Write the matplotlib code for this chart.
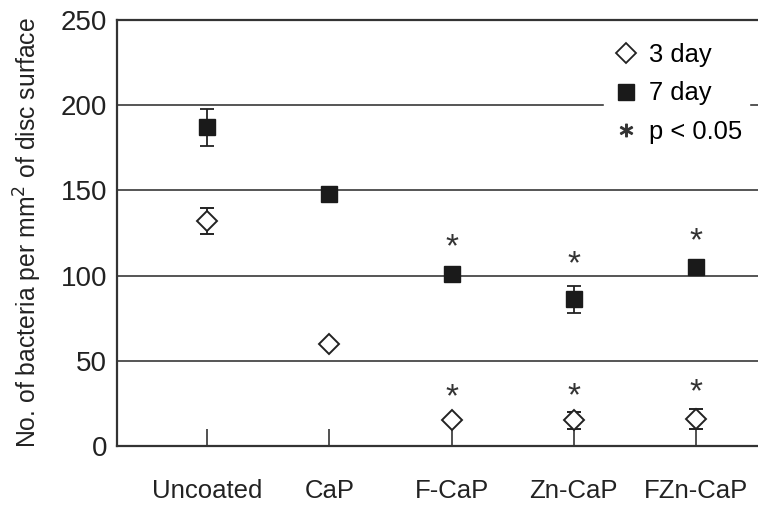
import matplotlib
matplotlib.use("Agg")
import matplotlib.pyplot as plt
from matplotlib.lines import Line2D

plt.rcParams['font.family'] = ['Liberation Sans', 'DejaVu Sans']

# Data
groups = ['Uncoated', 'CaP', 'F-CaP', 'Zn-CaP', 'FZn-CaP']
day3 = [132, 60, 15, 15, 16]
day3_err = [7.5, 0, 0, 5, 6]
day7 = [187, 148, 101, 86, 105]
day7_err = [11, 3, 0, 8, 0]
sig3 = [False, False, True, True, True]
sig7 = [False, False, True, True, True]

fig = plt.figure(figsize=(7.58, 5.08), dpi=100)
ax = fig.add_axes([117 / 758, 1 - 446 / 508, 1 - 117 / 758 + 0.02, (446 - 20) / 508])

x = list(range(len(groups)))
grid_c = '#555555'
for g in [50, 100, 150, 200]:
    ax.axhline(g, color=grid_c, lw=1.4, zorder=1)

ax.errorbar(x, day7, yerr=day7_err, fmt='s', color='#1a1a1a', ms=11,
            ecolor='#222222', elinewidth=1.3, capsize=5, capthick=1.3, zorder=3)
ax.errorbar(x, day3, yerr=day3_err, fmt='D', mfc='white', mec='#222222', mew=1.4,
            ms=10.5, ecolor='#222222', elinewidth=1.3, capsize=5, capthick=1.3, zorder=3)

for i in x:
    if sig7[i]:
        top = day7[i] + max(day7_err[i], 3)
        ax.text(i, top + 3, '*', ha='center', va='bottom', fontsize=24, color='#333333')
    if sig3[i]:
        top = day3[i] + max(day3_err[i], 4)
        ax.text(i, top, '*', ha='center', va='bottom', fontsize=24, color='#333333')

ax.set_ylim(0, 250)
ax.set_xlim(-0.736, 4.63)
ax.set_yticks([0, 50, 100, 150, 200, 250])
ax.set_xticks(x)
ax.set_xticklabels(groups)
ax.tick_params(axis='y', length=0, pad=7, labelsize=20, labelcolor='#222222')
ax.tick_params(axis='x', direction='in', length=12, width=1.2, color='#333333',
               pad=24, labelsize=18.5, labelcolor='#222222')
ax.set_ylabel('No. of bacteria per mm$^2$ of disc surface', fontsize=17.8,
              color='#222222', labelpad=12)

for s in ['left', 'bottom', 'top']:
    ax.spines[s].set_linewidth(1.6)
    ax.spines[s].set_color('#333333')
ax.spines['right'].set_visible(False)

handles = [
    Line2D([], [], ls='none', marker='D', mfc='white', mec='#222222', mew=1.3, ms=10),
    Line2D([], [], ls='none', marker='s', color='#1a1a1a', ms=11),
    Line2D([], [], ls='none', marker='$*$', color='#333333', ms=9),
]
leg = ax.legend(handles, ['3 day', '7 day', 'p < 0.05'], loc='upper right',
                bbox_to_anchor=(0.982, 0.99), frameon=True, fontsize=18.4,
                handletextpad=0.3, handlelength=1.2, labelspacing=0.55,
                borderpad=0.25)
leg.get_frame().set_edgecolor('white')
leg.get_frame().set_facecolor('white')
leg.get_frame().set_alpha(1)
leg.set_zorder(5)

fig.savefig('out.png', dpi=100)
